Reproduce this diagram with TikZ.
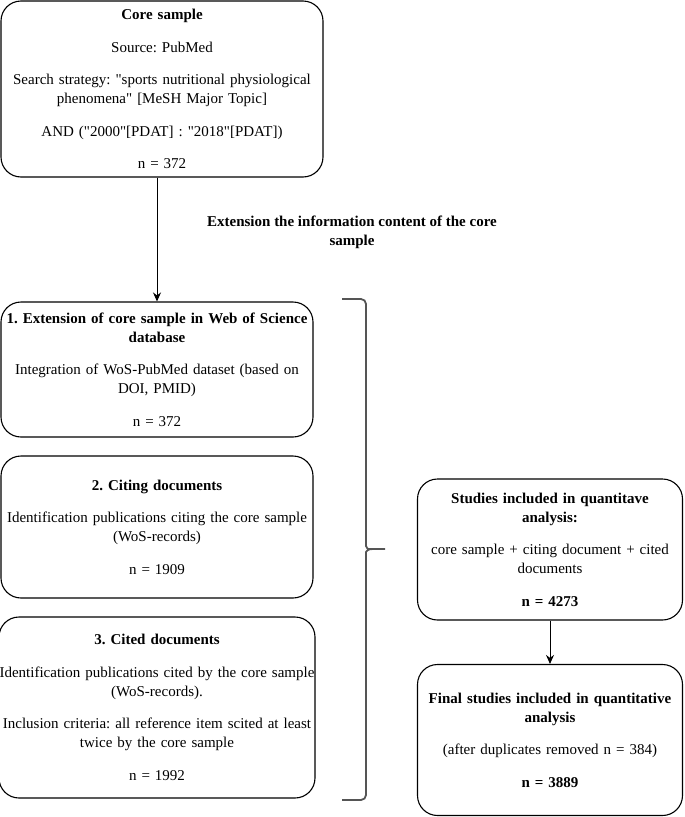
\documentclass[tikz,border=0pt]{standalone}
\usepackage{fontspec}
\setmainfont{Liberation Serif}[Ligatures=TeXOff]
\usetikzlibrary{arrows.meta}
\definecolor{brkgray}{HTML}{555555}
\newcommand\pgap{\\[13.5pt]}
\frenchspacing
\begin{document}
\begin{tikzpicture}[x=1pt,y=-1pt,
  box/.style={draw=black, line width=1.1pt, rounded corners=20pt, align=center,
    inner sep=0pt, font=\fontsize{15}{19}\selectfont\frenchspacing},
  arr/.style={draw=black, line width=1pt, -{Stealth[length=9pt,width=8pt]}},
  brk/.style={draw=brkgray, line width=1.8pt, rounded corners=5pt},
  lbl/.style={align=center, inner sep=0pt, font=\fontsize{15}{19}\selectfont\bfseries}]
\useasboundingbox (0,0) rectangle (685,817);
\node[box, minimum width=322pt, minimum height=176pt, text width=318pt] (core) at (162,89)
 {\textbf{Core sample}\pgap
  Source: PubMed\pgap
  Search strategy: "sports nutritional physiological\\
  phenomena" [MeSH Major Topic]\pgap
  AND ("2000"[PDAT] : "2018"[PDAT])\pgap
  n = 372};
\node[box, minimum width=312pt, minimum height=135pt, text width=308pt] (b1) at (157,369.5)
 {\textbf{1. Extension of core sample in Web of Science}\\
  \textbf{database}\pgap
  Integration of WoS-PubMed dataset (based on\\
  DOI, PMID)\pgap
  n = 372};
\node[box, minimum width=312pt, minimum height=142pt, text width=308pt] (b2) at (157,527)
 {\textbf{2. Citing documents}\pgap
  Identification publications citing the core sample\\
  (WoS-records)\pgap
  n = 1909};
\node[box, minimum width=312pt, minimum height=181pt, text width=316pt] (b3) at (157,707.5)
 {\textbf{3. Cited documents}\pgap
  Identification publications cited by the core sample\\
  (WoS-records).\pgap
  Inclusion criteria: all reference item scited at least\\
  twice by the core sample\pgap
  n = 1992};
\node[box, minimum width=265pt, minimum height=141pt, text width=261pt] (st) at (550,549.5)
 {\textbf{Studies included in quantitave}\\
  \textbf{analysis:}\pgap
  core sample + citing document + cited\\
  documents\pgap
  \textbf{n = 4273}};
\node[box, minimum width=265pt, minimum height=151pt, text width=263pt] (fin) at (550,740)
 {\textbf{Final studies included in quantitative}\\
  \textbf{analysis}\pgap
  (after duplicates removed n = 384)\pgap
  \textbf{n = 3889}};
\node[lbl] (ext) at (352,232.5)
 {Extension the information content of the core\\ sample};
\draw[arr] (b1.north |- core.south) -- (b1.north);
\draw[arr] (st) -- (fin);
\draw[brk] (342,299) -- (366,299) -- (366,541)
  .. controls (366,547) and (368,549) .. (373,549) -- (385,549);
\draw[brk] (373,549) .. controls (368,549) and (366,551) .. (366,557)
  -- (366,800) -- (342,800);
\end{tikzpicture}
\end{document}
